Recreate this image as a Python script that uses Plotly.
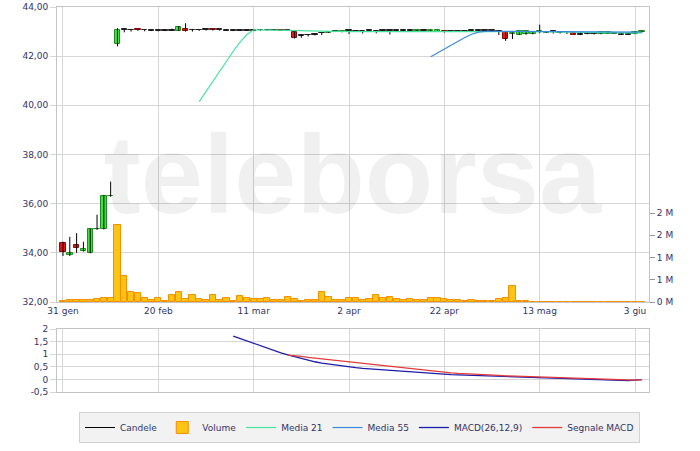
import plotly.graph_objects as go

# ---------------- data ----------------
TICK_POS = [0, 14, 28, 42, 56, 70, 84]
TICK_LABELS = ["31 gen", "20 feb", "11 mar", "2 apr", "22 apr", "13 mag", "3 giu"]

OPEN = [34.41, 33.90, 34.32, 34.08, 34.00, 34.95, 34.97, 36.30, 42.50, 43.06,
        43.05, 43.10, 43.05, 43.04, 43.03, 43.03, 43.04, 43.04, 43.12, 43.05,
        43.05, 43.06, 43.09, 43.06, 43.05, 43.04, 43.04, 43.05, 43.04, 43.05,
        43.06, 43.05, 43.06, 43.04, 43.00, 42.82, 42.85, 42.88, 42.93, 42.96,
        43.00, 42.99, 43.02, 43.02, 43.01, 43.02, 43.01, 43.02, 43.02, 43.02,
        43.03, 43.03, 43.03, 43.04, 43.02, 43.00, 43.02, 43.00, 43.01, 43.01,
        43.02, 43.02, 43.02, 43.02, 43.00, 43.00, 42.92, 42.88, 42.89, 42.91,
        43.00, 42.95, 43.00, 42.93, 42.98, 42.93, 42.88, 42.90, 42.92, 42.90,
        42.92, 42.92, 42.88, 42.87, 42.90, 42.97]
HIGH = [34.45, 34.65, 34.80, 34.45, 34.98, 35.55, 36.35, 36.90, 43.14, 43.08,
        43.10, 43.12, 43.09, 43.05, 43.04, 43.05, 43.12, 43.22, 43.34, 43.10,
        43.07, 43.08, 43.10, 43.08, 43.06, 43.05, 43.06, 43.06, 43.06, 43.08,
        43.07, 43.10, 43.07, 43.05, 43.01, 42.87, 42.89, 42.92, 42.96, 43.01,
        43.02, 43.03, 43.04, 43.03, 43.04, 43.03, 43.04, 43.05, 43.04, 43.05,
        43.08, 43.05, 43.06, 43.05, 43.06, 43.06, 43.04, 43.03, 43.03, 43.03,
        43.04, 43.03, 43.04, 43.05, 43.07, 43.02, 42.97, 43.03, 43.02, 43.01,
        43.28, 43.02, 43.01, 43.01, 43.00, 42.94, 43.00, 42.98, 42.96, 42.98,
        42.98, 42.94, 42.97, 42.95, 43.01, 43.03]
LOW = [33.87, 33.87, 34.00, 34.05, 33.98, 34.93, 34.95, 36.28, 42.40, 42.97,
       43.00, 43.03, 43.01, 43.02, 43.01, 43.02, 43.03, 43.03, 43.00, 43.00,
       43.03, 43.04, 43.04, 43.04, 43.03, 43.02, 43.02, 43.03, 43.02, 43.03,
       43.04, 43.03, 43.03, 43.02, 42.72, 42.75, 42.80, 42.84, 42.86, 42.95,
       42.98, 42.97, 42.90, 42.99, 42.92, 43.00, 42.93, 43.00, 42.88, 43.00,
       43.01, 43.01, 43.01, 43.02, 43.00, 42.99, 42.96, 42.98, 42.99, 43.00,
       43.00, 43.00, 43.00, 43.00, 42.86, 42.62, 42.70, 42.86, 42.87, 42.89,
       42.93, 42.94, 42.92, 42.92, 42.90, 42.86, 42.87, 42.89, 42.88, 42.89,
       42.91, 42.90, 42.87, 42.86, 42.89, 42.96]
CLOSE = [34.02, 34.00, 34.21, 34.16, 34.96, 34.97, 36.30, 36.33, 43.05, 43.07,
         43.05, 43.06, 43.05, 43.04, 43.03, 43.03, 43.04, 43.20, 43.03, 43.05,
         43.05, 43.06, 43.05, 43.06, 43.04, 43.04, 43.05, 43.04, 43.05, 43.06,
         43.05, 43.06, 43.04, 43.03, 42.73, 42.82, 42.85, 42.88, 42.94, 43.00,
         43.01, 43.02, 43.02, 43.01, 43.02, 43.02, 43.02, 43.03, 43.02, 43.03,
         43.04, 43.04, 43.05, 43.04, 43.05, 43.05, 42.98, 43.01, 43.02, 43.02,
         43.03, 43.02, 43.03, 43.03, 43.01, 42.68, 42.95, 43.02, 43.01, 43.00,
         43.03, 43.00, 42.99, 43.00, 42.97, 42.88, 42.89, 42.91, 42.92, 42.97,
         42.97, 42.92, 42.89, 42.88, 43.00, 43.02]
VOLUME_M = [0.03, 0.04, 0.04, 0.04, 0.04, 0.06, 0.09, 0.08, 1.73, 0.58,
            0.22, 0.20, 0.09, 0.04, 0.10, 0.03, 0.16, 0.22, 0.06, 0.16,
            0.07, 0.05, 0.16, 0.05, 0.10, 0.03, 0.13, 0.08, 0.07, 0.06,
            0.10, 0.04, 0.05, 0.12, 0.07, 0.03, 0.05, 0.04, 0.22, 0.12,
            0.04, 0.05, 0.10, 0.08, 0.05, 0.06, 0.15, 0.08, 0.12, 0.07,
            0.05, 0.06, 0.04, 0.05, 0.08, 0.10, 0.06, 0.04, 0.05, 0.03,
            0.04, 0.03, 0.02, 0.03, 0.07, 0.10, 0.36, 0.02, 0.02, 0.01,
            0.01, 0.01, 0.01, 0.01, 0.01, 0.01, 0.01, 0.01, 0.01, 0.01,
            0.01, 0.01, 0.01, 0.01, 0.01, 0.01]

MA21_START = 20
MA21 = [40.15, 40.57, 40.99, 41.41, 41.83, 42.20, 42.57, 42.88, 43.07, 43.07,
        43.07, 43.07, 43.07, 43.07, 43.05, 43.04, 43.03, 43.02, 43.02, 43.01,
        43.01, 43.00, 43.00, 43.00, 43.00, 43.00, 43.00, 43.00, 43.00, 43.00,
        43.00, 43.00, 43.00, 43.01, 43.01, 43.02, 43.02, 43.02, 43.02, 43.03,
        43.03, 43.03, 43.03, 43.03, 43.03, 43.01, 43.00, 43.00, 43.00, 43.00,
        43.00, 43.00, 42.99, 42.99, 42.98, 42.98, 42.97, 42.97, 42.96, 42.96,
        42.96, 42.95, 42.95, 42.95, 42.95, 42.95]
MA55_START = 54
MA55 = [41.98, 42.14, 42.30, 42.46, 42.62, 42.76, 42.89, 42.98, 43.01, 43.01,
        43.01, 43.00, 43.00, 43.00, 43.00, 43.00, 43.00, 43.00, 43.00, 43.00,
        43.00, 42.99, 42.99, 42.99, 42.99, 42.98, 42.98, 42.98, 42.98, 42.98,
        42.98, 42.98]
MACD_START = 25
MACD = [1.72, 1.62, 1.52, 1.43, 1.33, 1.24, 1.14, 1.05, 0.97, 0.90,
        0.82, 0.76, 0.70, 0.65, 0.61, 0.57, 0.53, 0.50, 0.47, 0.44,
        0.42, 0.39, 0.37, 0.35, 0.33, 0.31, 0.29, 0.27, 0.25, 0.23,
        0.21, 0.20, 0.19, 0.18, 0.17, 0.16, 0.15, 0.14, 0.13, 0.12,
        0.11, 0.10, 0.09, 0.08, 0.08, 0.07, 0.06, 0.05, 0.04, 0.03,
        0.02, 0.01, 0.00, -0.01, -0.02, -0.03, -0.04, -0.05, -0.05, -0.03,
        -0.01]
SIGNAL_START = 33
SIGNAL = [0.96, 0.94, 0.91, 0.87, 0.84, 0.80, 0.77, 0.74, 0.71, 0.68,
          0.65, 0.62, 0.59, 0.56, 0.53, 0.50, 0.47, 0.44, 0.41, 0.38,
          0.35, 0.32, 0.29, 0.27, 0.26, 0.24, 0.23, 0.21, 0.20, 0.18,
          0.17, 0.16, 0.14, 0.13, 0.12, 0.10, 0.09, 0.08, 0.07, 0.06,
          0.05, 0.04, 0.03, 0.02, 0.01, 0.00, -0.01, -0.02, -0.03, -0.04,
          -0.04, -0.03, -0.01]

PRICE_TICKS = [32, 34, 36, 38, 40, 42, 44]
PRICE_TICK_LABELS = ["32,00", "34,00", "36,00", "38,00", "40,00", "42,00", "44,00"]
VOL_TICKS = [0, 0.5, 1.0, 1.5, 2.0]
VOL_TICK_LABELS = ["0 M", "1 M", "1 M", "2 M", "2 M"]
MACD_TICKS = [-0.5, 0, 0.5, 1, 1.5, 2]
MACD_TICK_LABELS = ["-0,5", "0", "0,5", "1", "1,5", "2"]

# ---------------- figure ----------------
N = len(OPEN)
X = list(range(N))
FONT = "DejaVu Sans"
TXT = "#333366"
GRID = "#d6d6d6"
BORDER = "#c4c4c4"

fig = go.Figure()

# watermark (drawn first so it sits behind the data)
fig.add_trace(go.Scatter(
    x=[42.5], y=[36.75], mode="text", text=["teleborsa"],
    textfont=dict(family="Liberation Sans", size=112, color="rgba(0,0,0,0.06)", weight="bold"),
    showlegend=False, hoverinfo="skip"))

# candle wicks
wx, wy = [], []
for i in X:
    wx += [i, i, None]
    wy += [LOW[i], HIGH[i], None]
fig.add_trace(go.Scatter(x=wx, y=wy, mode="lines", name="Candele", legendrank=1,
                         line=dict(color="#000000", width=1), hoverinfo="skip"))

# candle bodies
base, height, fill, edge = [], [], [], []
for o, c in zip(OPEN, CLOSE):
    base.append(min(o, c))
    height.append(max(abs(c - o), 0.03))
    if abs(c - o) < 0.015:
        fill.append("#333333"); edge.append("#222222")
    elif c >= o:
        fill.append("#3CE33C"); edge.append("#1E8C1E")
    else:
        fill.append("#E81515"); edge.append("#8A0A0A")
fig.add_trace(go.Bar(x=X, y=height, base=base, showlegend=False,
                     marker=dict(color=fill, line=dict(color=edge, width=1)),
                     width=0.8, hoverinfo="skip"))

# volume bars (secondary axis)
fig.add_trace(go.Bar(
    x=X, y=VOLUME_M, name="Volume", yaxis="y3", xaxis="x", legendrank=2,
    marker=dict(color="#FFC412", line=dict(color="#F29000", width=1)),
    width=0.92))

fig.add_trace(go.Scatter(x=list(range(MA21_START, MA21_START + len(MA21))), y=MA21,
                         mode="lines", name="Media 21", legendrank=3,
                         line=dict(color="#45E39E", width=1.2)))
fig.add_trace(go.Scatter(x=list(range(MA55_START, MA55_START + len(MA55))), y=MA55,
                         mode="lines", name="Media 55", legendrank=4,
                         line=dict(color="#3A8CD8", width=1.2)))

fig.add_trace(go.Scatter(x=list(range(MACD_START, MACD_START + len(MACD))), y=MACD,
                         mode="lines", name="MACD(26,12,9)", xaxis="x2", yaxis="y2",
                         legendrank=5, line=dict(color="#1C1CA8", width=1.3)))
fig.add_trace(go.Scatter(x=list(range(SIGNAL_START, SIGNAL_START + len(SIGNAL))), y=SIGNAL,
                         mode="lines", name="Segnale MACD", xaxis="x2", yaxis="y2",
                         legendrank=6, line=dict(color="#E23A3A", width=1.3)))

L, R, T, B = 57, 51, 7, 59
W, H = 700, 451
ph = H - T - B
price_bottom = (392 - 302) / ph
macd_top = (392 - 329) / ph

xr = [-0.88, 86.05]
tickfont = dict(family=FONT, size=9, color=TXT)

fig.update_layout(
    width=W, height=H,
    margin=dict(l=L, r=R, t=T, b=B, autoexpand=False),
    paper_bgcolor="white", plot_bgcolor="white",
    barmode="overlay", bargap=0,
    showlegend=True,
    legend=dict(orientation="h", x=0.511, xanchor="center", y=-0.052, yanchor="top",
                bgcolor="#f2f2f2", bordercolor="#d2d2d2", borderwidth=1,
                font=dict(family=FONT, size=9, color=TXT), itemwidth=30,
                traceorder="normal"),
    xaxis=dict(domain=[0, 1], anchor="y", range=xr, tickvals=TICK_POS, ticktext=TICK_LABELS,
               showgrid=True, gridcolor=GRID, zeroline=False, showline=True, mirror=True,
               linecolor=BORDER, ticks="", tickfont=tickfont, automargin=False),
    xaxis2=dict(domain=[0, 1], anchor="y2", matches="x", tickvals=TICK_POS,
                showticklabels=False, showgrid=True, gridcolor=GRID, zeroline=False,
                showline=True, mirror=True, linecolor=BORDER, ticks="", automargin=False),
    yaxis=dict(domain=[price_bottom, 1], anchor="x", range=[32, 44],
               tickvals=PRICE_TICKS, ticktext=PRICE_TICK_LABELS,
               showgrid=True, gridcolor=GRID, zeroline=False, showline=True, mirror=True,
               linecolor=BORDER, ticks="outside", ticklen=6, tickcolor=GRID, tickfont=tickfont,
               automargin=False),
    yaxis3=dict(overlaying="y", side="right", anchor="x", range=[0, 2.0 * 295 / 89],
                tickvals=VOL_TICKS, ticktext=VOL_TICK_LABELS, showgrid=False, zeroline=False,
                ticks="outside", ticklen=5, tickcolor="#999999", tickfont=tickfont,
                showline=False, automargin=False),
    yaxis2=dict(domain=[0, macd_top], anchor="x2", range=[-0.5, 2],
                tickvals=MACD_TICKS, ticktext=MACD_TICK_LABELS,
                showgrid=True, gridcolor=GRID, zeroline=False, showline=True, mirror=True,
                linecolor=BORDER, ticks="outside", ticklen=6, tickcolor=GRID, tickfont=tickfont,
                automargin=False),
)

fig.write_html("out.html", config={"displayModeBar": False},
               post_script="document.body.style.margin='0px';")
